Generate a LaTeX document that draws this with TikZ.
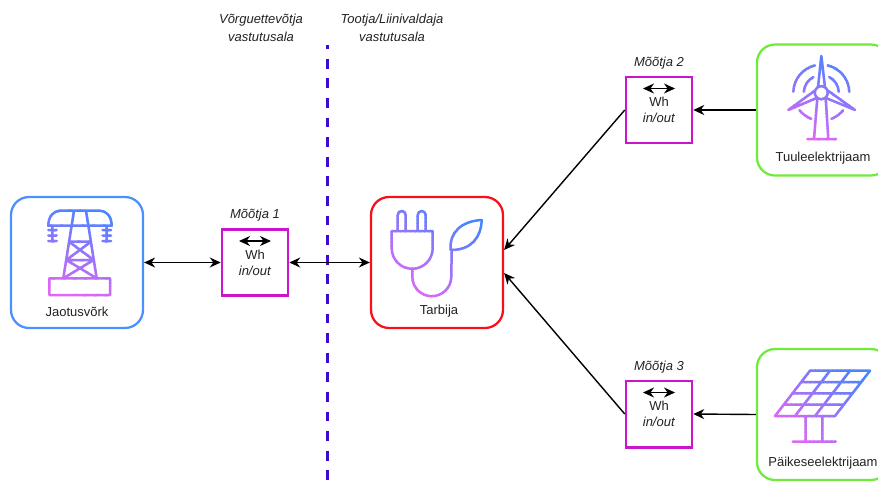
\documentclass[tikz,border=0pt]{standalone}
\usepackage{fontspec}
\setmainfont{Liberation Sans}
\usetikzlibrary{positioning,arrows.meta}
\definecolor{gridblue}{HTML}{4A90FF}
\definecolor{loadred}{HTML}{F5101A}
\definecolor{plantgreen}{HTML}{6FEB3A}
\definecolor{metermag}{HTML}{CC14CC}
\definecolor{linedash}{HTML}{3A0CD2}
\definecolor{iconblue}{HTML}{4A84FF}
\definecolor{iconpink}{HTML}{DC68F6}
\definecolor{txtcol}{HTML}{222222}
\newcommand{\gradicon}[5]{%
  \foreach \i in {0,...,31}{
    \pgfmathsetmacro\mixv{100-\i*100/31}
    \pgfmathsetmacro\ya{\i==0 ? #2-3*#3 : #2-#3+\i*#3/16}
    \pgfmathsetmacro\yb{\i==31 ? #2+3*#3 : #2-#3+(\i+1.2)*#3/16}
    \begin{scope}
      \clip[rotate around={#4:(#1,#2)}] ({#1-3*#3},\ya) rectangle ({#1+3*#3},\yb);
      \draw[iconline,color=iconblue!\mixv!iconpink] #5;
    \end{scope}
  }
}
\tikzset{
  x=0.02cm,y=-0.02cm,
  box/.style={draw,rounded corners=0.36cm,line width=0.045cm,minimum width=2.64cm,minimum height=2.62cm,inner sep=0pt},
  meter/.style={draw=metermag,line width=0.05cm,minimum width=1.32cm,minimum height=1.33cm,inner sep=0pt,align=center,text=txtcol,font=\fontsize{7.4}{9.1}\selectfont},
  lbl/.style={inner sep=0pt,text=txtcol,font=\fontsize{7.4}{9.1}\selectfont,align=center},
  toplbl/.style={lbl,font=\fontsize{7.4}{10.2}\itshape\selectfont},
  conn/.style={line width=0.028cm,{Stealth[length=0.22cm,width=0.2cm]}-{Stealth[length=0.22cm,width=0.2cm]}},
  feed/.style={line width=0.028cm,-{Stealth[length=0.22cm,width=0.2cm]}},
  iconline/.style={line width=0.05cm,line join=round,line cap=round},
}
\begin{document}
\begin{tikzpicture}
  \useasboundingbox (0,0) rectangle (878,480);

  \node[box,draw=gridblue] (grid) at (77,262.5) {};
  \node[box,draw=loadred] (load) at (437,262.5) {};
  \node[box,draw=plantgreen] (wind) at (823,110) {};
  \node[box,draw=plantgreen] (solar) at (823,414.5) {};

  \node[meter] (m1) at (255,262.5) {Wh\\\textit{in/out}};
  \node[meter] (m2) at (659,110) {Wh\\\textit{in/out}};
  \node[meter] (m3) at (659,414) {Wh\\\textit{in/out}};

  \node[toplbl,above=0.12cm of m1] (m1lbl) {Mõõtja 1};
  \node[toplbl,above=0.12cm of m2] (m2lbl) {Mõõtja 2};
  \node[toplbl,above=0.12cm of m3] (m3lbl) {Mõõtja 3};

  \node[toplbl] (gridside) at (261,28) {Võrguettevõtja\\vastutusala};
  \node[toplbl] (ownerside) at (392,28) {Tootja/Liinivaldaja\\vastutusala};

  \node[lbl] (gridlbl) at (77,312) {Jaotusvõrk};
  \node[lbl] (loadlbl) at (439,311) {Tarbija};
  \node[lbl] (windlbl) at (823,158.5) {Tuuleelektrijaam};
  \node[lbl] (solarlbl) at (823,463) {Päikeseelektrijaam};

  \coordinate (dashtop) at (327,45);
  \coordinate (dashend) at (327,480);
  \draw[linedash,line width=0.06cm,dash pattern=on 0.196cm off 0.196cm,dash phase=0.116cm] (dashtop) -- (dashend);

  \draw[conn] (grid.east) -- (m1.west);
  \draw[conn] (m1.east) -- (load.west);
  \draw[feed] (m2.west) -- ([yshift=0.25cm]load.east);
  \draw[feed] (m3.west) -- ([yshift=-0.21cm]load.east);
  \draw[feed] (wind.west) -- (m2.east);
  \draw[feed] (solar.west) -- (m3.east);

  \foreach \m in {m1,m2,m3}
    \draw[conn] ([xshift=-0.32cm,yshift=0.43cm]\m.center) -- ([xshift=0.32cm,yshift=0.43cm]\m.center);

  % mast
  \gradicon{80}{252}{44}{-15}{
    (49.3,278.3) rectangle (110,295)
    (63.3,278.3) -- (74,210.7) (96.7,278.3) -- (86,210.7)
    (48.3,225.7) .. controls (48.3,216) and (54,210.7) .. (60,210.7) -- (100,210.7) .. controls (106,210.7) and (111.7,216) .. (111.7,225.7) -- cycle
    (52.3,225.7) -- (52.3,241.7) (48.3,230) -- (56.7,230) (48.3,235.5) -- (56.7,235.5) (48.3,241) -- (56.7,241)
    (106.7,225.7) -- (106.7,241.7) (102.7,230) -- (111,230) (102.7,235.5) -- (111,235.5) (102.7,241) -- (111,241)
    (69,241.7) -- (91,241.7) (66.3,260) -- (93.7,260)
    (69,241.7) -- (93.7,260) (91,241.7) -- (66.3,260)
    (66.3,260) -- (96.7,278.3) (93.7,260) -- (63.3,278.3)
  }

  % plug and leaf
  \gradicon{437}{254}{44}{-35}{
    (397.7,231) -- (397.7,215) arc[start angle=180,end angle=0,radius=0.08cm] -- (405.7,231)
    (417.7,231) -- (417.7,215) arc[start angle=180,end angle=0,radius=0.08cm] -- (425.7,231)
    (391.7,231) -- (432.7,231) -- (432.7,248.3) arc[start angle=0,end angle=-180,radius=0.41cm] -- cycle
    (412.3,268.3) -- (412.3,276.7) arc[start angle=180,end angle=360,radius=0.39cm] -- (451.7,250)
    (450.7,250) .. controls (449,232) and (462,221) .. (481.7,220) .. controls (481,237) and (472,250) .. (450.7,250)
  }

  % turbine
  \gradicon{821.3}{97}{44}{-20}{
    (818,87.3) -- (821.3,56) -- (825,87.3)
    (815.7,90) -- (788.3,110) -- (817.3,97.7)
    (827,90) -- (855,110) -- (825.3,97.7)
    (821.3,92.7) circle[radius=0.13cm]
    (817.3,98.3) -- (814,139) (825.7,98.3) -- (828.3,139)
    (807.3,139) -- (836,139)
    ([shift={(103:0.56cm)}]821.3,92.7) arc[start angle=103,end angle=178,radius=0.56cm]
    ([shift={(77:0.56cm)}]821.3,92.7) arc[start angle=77,end angle=2,radius=0.56cm]
    ([shift={(219:0.56cm)}]821.3,92.7) arc[start angle=219,end angle=249,radius=0.56cm]
    ([shift={(321:0.56cm)}]821.3,92.7) arc[start angle=321,end angle=291,radius=0.56cm]
    ([shift={(117:0.35cm)}]821.3,92.7) arc[start angle=117,end angle=177,radius=0.35cm]
    ([shift={(63:0.35cm)}]821.3,92.7) arc[start angle=63,end angle=3,radius=0.35cm]
  }

  % panel
  \gradicon{822}{400}{44}{-40}{
    (810,370.7) -- (870,370.7) -- (835,416) -- (775,416) -- cycle
    (801.3,382) -- (861.3,382) (792.5,393.4) -- (852.5,393.4) (783.8,404.7) -- (843.8,404.7)
    (830,370.7) -- (795,416) (850,370.7) -- (815,416)
    (805.7,416) -- (805.7,441.7) (822.3,416) -- (822.3,441.7)
    (792.7,441.7) -- (835.7,441.7)
  }
\end{tikzpicture}
\end{document}
